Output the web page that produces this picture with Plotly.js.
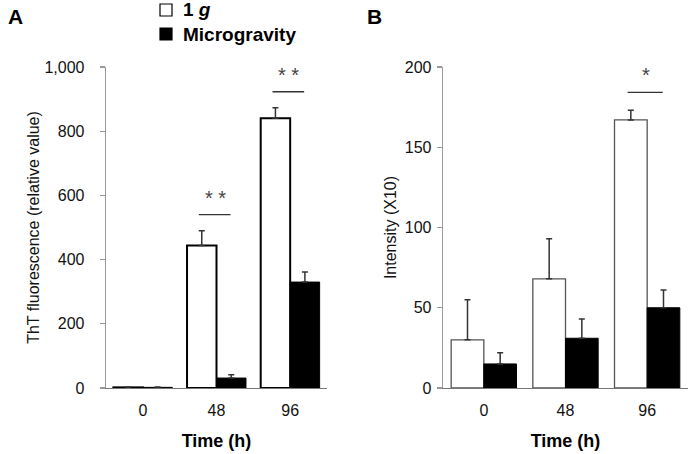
<!DOCTYPE html>
<html>
<head>
<meta charset="utf-8">
<script src="https://cdn.plot.ly/plotly-3.0.1.min.js"></script>
<style>html,body{margin:0;padding:0;background:#fff}#chart{width:689px;height:454px}</style>
</head>
<body>
<div id="chart"></div>
<script>
// ---- data ----
const timeLabels = ['0', '48', '96'];
// Panel A: ThT fluorescence (relative value)
const thtOneG = [2, 444, 840];
const thtOneGErr = [1, 46, 33];
const thtMicro = [2, 31, 330];
const thtMicroErr = [1, 10, 31];
// Panel B: Intensity (X10)
const intOneG = [30, 68, 167];
const intOneGErr = [25, 25, 6];
const intMicro = [15, 31, 50];
const intMicroErr = [7, 12, 11];
// significance marks: category index, label
const sigACats = [1, 2];
const sigALabels = ['* *', '* *'];
const sigBCats = [2];
const sigBLabels = ['*'];
// legend entries
const seriesNames = ['1 <i>g</i>', 'Microgravity'];
const seriesFills = ['#fff', '#000'];

const FONT = 'Arial, "Liberation Sans", Helvetica, sans-serif';
const zeros = n => new Array(n).fill(0);

function errBar(arr) {
  return {type: 'data', array: arr, arrayminus: zeros(arr.length), symmetric: false,
          color: '#333', thickness: 1.5, width: 3};
}

const traces = [
  {type: 'bar', name: seriesNames[0], x: timeLabels, y: thtOneG, xaxis: 'x', yaxis: 'y',
   marker: {color: seriesFills[0], line: {color: '#000', width: 2}}, error_y: errBar(thtOneGErr)},
  {type: 'bar', name: seriesNames[1], x: timeLabels, y: thtMicro, xaxis: 'x', yaxis: 'y',
   marker: {color: seriesFills[1], line: {color: '#000', width: 1}}, error_y: errBar(thtMicroErr)},
  {type: 'bar', name: seriesNames[0], x: timeLabels, y: intOneG, xaxis: 'x2', yaxis: 'y2',
   marker: {color: seriesFills[0], line: {color: '#555', width: 1.3}}, error_y: errBar(intOneGErr)},
  {type: 'bar', name: seriesNames[1], x: timeLabels, y: intMicro, xaxis: 'x2', yaxis: 'y2',
   marker: {color: seriesFills[1], line: {color: '#000', width: 1}}, error_y: errBar(intMicroErr)}
];

const yDomain = [66 / 454, 387 / 454];
const plotH = 321;
const rangeA = [0, 1000], rangeB = [0, 200];

const shapes = [], annotations = [];
function addSig(cats, labels, hi, hiErr, lo, loErr, xref, yref, range, gapPx) {
  const upp = (range[1] - range[0]) / plotH;
  cats.forEach((c, i) => {
    const top = Math.max(hi[c] + hiErr[c], lo[c] + loErr[c]);
    const yLine = top + gapPx * upp;
    shapes.push({type: 'line', xref: xref, yref: yref, x0: c - 0.24, x1: c + 0.19,
                 y0: yLine, y1: yLine, line: {color: '#333', width: 1.3}});
    annotations.push({xref: xref, yref: yref, x: c - 0.02, y: yLine, text: labels[i],
                      showarrow: false, yanchor: 'middle', yshift: 17,
                      font: {family: FONT, size: 20, color: '#444'}});
  });
}
addSig(sigACats, sigALabels, thtOneG, thtOneGErr, thtMicro, thtMicroErr, 'x', 'y', rangeA, 16);
addSig(sigBCats, sigBLabels, intOneG, intOneGErr, intMicro, intMicroErr, 'x2', 'y2', rangeB, 18);

// manual legend (square swatches + bold labels)
const legendX = 160 / 689, legendRowY = [10, 34];
seriesNames.forEach((nm, i) => {
  const yc = 1 - legendRowY[i] / 454;
  shapes.push({type: 'rect', xref: 'paper', yref: 'paper',
               x0: legendX, x1: legendX + 12 / 689, y0: yc - 6 / 454, y1: yc + 6 / 454,
               fillcolor: seriesFills[i], line: {color: '#000', width: 1.2}});
  annotations.push({xref: 'paper', yref: 'paper', x: 181 / 689, y: yc, text: '<b>' + nm + '</b>',
                    showarrow: false, xanchor: 'left', yanchor: 'middle',
                    font: {family: FONT, size: 19, color: '#000'}});
});

annotations.push({xref: 'paper', yref: 'paper', x: 6 / 689, y: 1 - 17 / 454, text: '<b>A</b>',
                  showarrow: false, xanchor: 'left', yanchor: 'middle',
                  font: {family: FONT, size: 21, color: '#000'}});
annotations.push({xref: 'paper', yref: 'paper', x: 365 / 689, y: 1 - 17 / 454, text: '<b>B</b>',
                  showarrow: false, xanchor: 'left', yanchor: 'middle',
                  font: {family: FONT, size: 21, color: '#000'}});

const tickFont = {family: FONT, size: 16, color: '#111'};
const titleFont = {family: FONT, size: 16, color: '#111'};
const xTitleFont = {family: FONT, size: 18, color: '#000', weight: 'bold'};

const xCommon = {type: 'category', showgrid: false, zeroline: false, showline: true,
                 linecolor: '#777', linewidth: 1.3, ticks: '', tickfont: tickFont,
                 ticklabelstandoff: 7,
                 range: [-0.5, 2.5], fixedrange: true, automargin: false};
const yCommon = {showgrid: false, zeroline: false, showline: true, linecolor: '#999', linewidth: 1.3,
                 ticks: 'outside', ticklen: 5, tickcolor: '#999', tickwidth: 1.3,
                 tickfont: tickFont, domain: yDomain, automargin: false};

const layout = {
  width: 689, height: 454,
  margin: {l: 0, r: 0, t: 0, b: 0},
  paper_bgcolor: '#fff', plot_bgcolor: '#fff',
  barmode: 'group', bargap: 0.2, bargroupgap: 0,
  font: {family: FONT},
  showlegend: false,
  xaxis: Object.assign({}, xCommon, {domain: [106 / 689, 327 / 689], anchor: 'y',
          title: {text: 'Time (h)', font: xTitleFont, standoff: 17}}),
  yaxis: Object.assign({}, yCommon, {range: rangeA, dtick: 200, tickformat: ',', anchor: 'x',
          ticklabelstandoff: 12,
          title: {text: 'ThT fluorescence (relative value)', font: titleFont, standoff: 1}}),
  xaxis2: Object.assign({}, xCommon, {domain: [443 / 689, 688 / 689], anchor: 'y2',
          title: {text: 'Time (h)', font: xTitleFont, standoff: 17}}),
  yaxis2: Object.assign({}, yCommon, {range: rangeB, dtick: 50, anchor: 'x2',
          ticklabelstandoff: 2,
          title: {text: 'Intensity (X10)', font: titleFont, standoff: 4}}),
  shapes: shapes,
  annotations: annotations
};

Plotly.newPlot('chart', traces, layout, {displayModeBar: false, staticPlot: true});
</script>
</body>
</html>
